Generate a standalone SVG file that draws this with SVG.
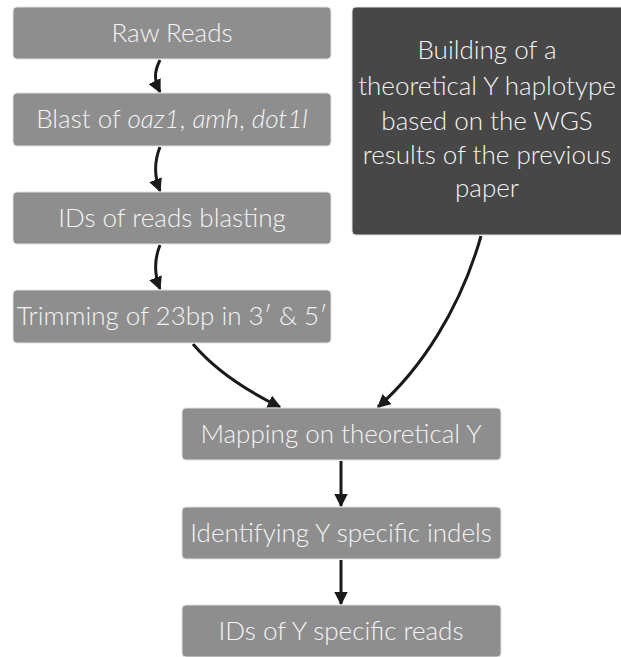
<svg xmlns="http://www.w3.org/2000/svg" width="621" height="657" viewBox="0 0 621 657">
<style>
.box{fill:#8e8e8e;stroke:#e0e0e0;stroke-width:1}
.dark{fill:#474747;stroke:#e0e0e0;stroke-width:1}
.t{font-family:Lato,"Open Sans",sans-serif;font-size:26px;fill:#f4f4f4;text-anchor:middle;font-weight:300}
.c{fill:none;stroke:#1a1a1a;stroke-width:3}
</style>
<defs>
<marker id="ah" viewBox="0 0 10 10" refX="9" refY="5" markerWidth="4.5" markerHeight="4.5" orient="auto" markerUnits="strokeWidth">
<path d="M0,0 L10,5 L0,10 z" fill="#1a1a1a"/>
</marker>
</defs>
<rect width="621" height="657" fill="#ffffff"/>
<g id="connectors">
<path class="c" d="M160,60 C154,72 154,80 160,92" marker-end="url(#ah)"/>
<path class="c" d="M160,147 C154,162 154,176 160,191" marker-end="url(#ah)"/>
<path class="c" d="M160,245 C154,260 154,274 160,289" marker-end="url(#ah)"/>
<path class="c" d="M193,344 C215,370 245,390 280,407" marker-end="url(#ah)"/>
<path class="c" d="M481,236 C460,310 420,370 378,407" marker-end="url(#ah)"/>
<path class="c" d="M341,461 L341,506" marker-end="url(#ah)"/>
<path class="c" d="M341,560 L341,604" marker-end="url(#ah)"/>
</g>
<g id="raw-reads">
<rect class="box" x="13" y="7" width="318" height="52" rx="4"/>
<text class="t" x="172" y="42">Raw Reads</text>
</g>
<g id="blast">
<rect class="box" x="13" y="93" width="318" height="53" rx="4"/>
<text class="t" x="172" y="128">Blast of <tspan font-style="italic">oaz1</tspan>, <tspan font-style="italic">amh</tspan>, <tspan font-style="italic">dot1l</tspan></text>
</g>
<g id="ids-blasting">
<rect class="box" x="13" y="192" width="318" height="52" rx="4"/>
<text class="t" x="172" y="227">IDs of reads blasting</text>
</g>
<g id="trimming">
<rect class="box" x="13" y="290" width="318" height="53" rx="4"/>
<text class="t" x="172" y="325">Trimming of 23bp in 3′ &amp; 5′</text>
</g>
<g id="building">
<rect class="dark" x="352" y="7" width="275" height="228" rx="4"/>
<text class="t" x="487" y="59">Building of a</text>
<text class="t" x="487" y="95">theoretical Y haplotype</text>
<text class="t" x="487" y="130">based on the WGS</text>
<text class="t" x="487" y="164">results of the previous</text>
<text class="t" x="487" y="197">paper</text>
</g>
<g id="mapping">
<rect class="box" x="182" y="408" width="319" height="52" rx="4"/>
<text class="t" x="341" y="443">Mapping on theoretical Y</text>
</g>
<g id="identifying">
<rect class="box" x="182" y="507" width="319" height="52" rx="4"/>
<text class="t" x="341" y="542">Identifying Y specific indels</text>
</g>
<g id="ids-y">
<rect class="box" x="182" y="605" width="319" height="52" rx="4"/>
<text class="t" x="341" y="640">IDs of Y specific reads</text>
</g>
</svg>
